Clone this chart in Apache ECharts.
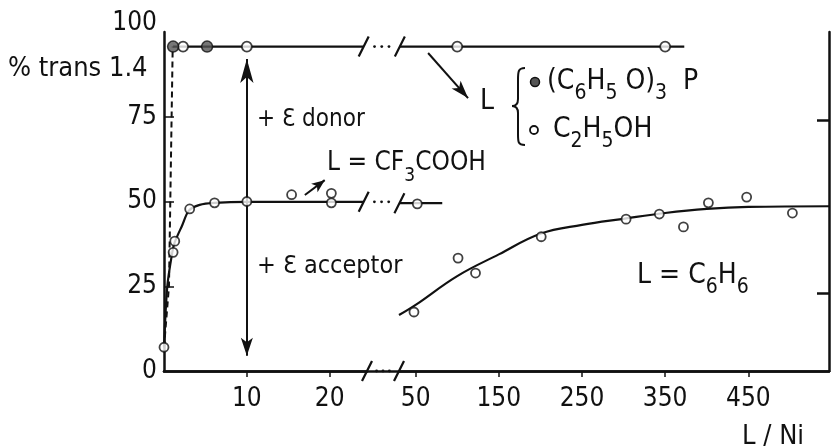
<!DOCTYPE html>
<html><head><meta charset="utf-8">
<script src="https://cdn.jsdelivr.net/npm/echarts@6/dist/echarts.min.js"></script>
<style>html,body{margin:0;padding:0;background:#fff}#c{width:832px;height:447px}</style>
</head><body><div id="c"></div>
<script>
// ---- data ----
const yTickLabels = [0, 25, 50, 75, 100];
const xTicksLeft = [10, 20];
const xTicksRight = [50, 150, 250, 350, 450];
const rightFrameTicks = [23, 74];

// L = (C6H5O)3P (filled) and L = C2H5OH (open), top line
const phosphitePts = [[1.1, 95.7], [5.2, 95.7]];
const ethanolPtsLeft = [[2.3, 95.7], [10, 95.7]];
const ethanolPtsRight = [[100, 95.7], [350, 95.7]];
const donorLineLeft = [[1.1, 95.7], [24.1, 95.7]];
const donorLineRight = [[31, 95.7], [373, 95.7]];
const donorDashed = [[0, 7], [0.6, 25], [0.95, 80], [1.05, 95.7]];

// L = CF3COOH
const cf3PtsLeft = [[0, 7], [1.1, 35], [1.3, 38.3], [3.1, 47.8], [6.1, 49.6], [10, 50], [15.4, 52], [20.2, 52.4], [20.2, 49.6]];
const cf3PtsRight = [[52, 49.3]];
const cf3CurveLeft = [[0, 7], [0.4, 25], [1.0, 35], [1.3, 38], [2.2, 43], [3.0, 47.3], [4.3, 49], [6.1, 49.6], [10, 49.9], [24.1, 49.9]];
const cf3CurveRight = [[30.5, 49.5], [82, 49.5]];

// L = C6H6
const benzeneL = [48, 101, 122, 201, 303, 343, 372, 402, 448, 503];
const benzeneY = [17.4, 33.3, 28.9, 39.6, 44.8, 46.3, 42.5, 49.6, 51.3, 46.6];
const benzeneCurve = [[30, 16.5], [50, 19.5], [100, 28], [150, 34.4], [200, 40.5], [250, 43.1], [300, 44.9], [350, 46.6], [400, 47.8], [450, 48.4], [548, 48.6]];

// arrows (data coordinates)
const bigArrow = [[10, 4.5], [10, 92]];
const cf3Arrow = [[17, 51.9], [19.4, 56.3]];
const donorArrow = [[65, 93.8], [113, 80.5]];

// ---- chart ----
const INK = '#111';
const FONT = "'DejaVu Sans Condensed', 'DejaVu Sans', sans-serif";
const NUMFONT = "'Liberation Sans Narrow', 'DejaVu Sans Condensed', 'DejaVu Sans', sans-serif";
const chart = echarts.init(document.getElementById('c'));

const openSym = { color: '#fff', borderColor: INK, borderWidth: 1.8 };
const lineSt = { color: INK, width: 2.2 };
const AX = { color: INK, width: 2.5 };

function axisX(grid, min, max, ticks) {
  return {
    type: 'value', gridIndex: grid, min: min, max: max,
    axisLine: { show: true, lineStyle: AX },
    axisTick: { show: true, customValues: ticks, length: 6, lineStyle: { color: INK, width: 1.5 } },
    axisLabel: { show: true, customValues: ticks, margin: 15, color: INK, fontSize: 26, fontFamily: NUMFONT },
    splitLine: { show: false }
  };
}

chart.setOption({
  animation: false,
  backgroundColor: '#fff',
  grid: [
    { left: 164, top: 32, width: 203, bottom: 76 },
    { left: 399, top: 32, width: 430, bottom: 76 },
    { left: 164, top: 32, width: 665, bottom: 76 }
  ],
  xAxis: [
    axisX(0, 0, 24.5, xTicksLeft),
    axisX(1, 30, 547, xTicksRight),
    { type: 'value', gridIndex: 2, min: 0, max: 1, position: 'top',
      axisLine: { show: true, lineStyle: AX },
      axisTick: { show: false }, axisLabel: { show: false }, splitLine: { show: false } }
  ],
  yAxis: [
    { type: 'value', gridIndex: 0, min: 0, max: 100, interval: 25,
      axisLine: { show: true, lineStyle: AX },
      axisTick: { show: true, inside: true, customValues: [25, 50, 75], length: 10, lineStyle: { color: INK, width: 1.5 } },
      axisLabel: { show: true, customValues: yTickLabels, margin: 7, color: INK, fontSize: 26, fontFamily: NUMFONT,
        formatter: v => v === 100 ? '{t|100}' : String(v),
        rich: { t: { fontSize: 26, fontFamily: NUMFONT, color: INK, padding: [0, 0, 18, 0] } } },
      splitLine: { show: false } },
    { type: 'value', gridIndex: 1, min: 0, max: 100, position: 'right',
      axisLine: { show: true, lineStyle: AX },
      axisTick: { show: true, inside: true, customValues: rightFrameTicks, length: 12, lineStyle: { color: INK, width: 2.5 } },
      axisLabel: { show: false },
      splitLine: { show: false } },
    { type: 'value', gridIndex: 2, min: 0, max: 100, show: false }
  ],
  series: [
    { type: 'line', xAxisIndex: 0, yAxisIndex: 0, data: cf3CurveLeft, smooth: 0.3, showSymbol: false, lineStyle: lineSt, z: 2 },
    { type: 'line', xAxisIndex: 1, yAxisIndex: 1, data: cf3CurveRight, showSymbol: false, lineStyle: lineSt, z: 2 },
    { type: 'line', xAxisIndex: 0, yAxisIndex: 0, data: donorLineLeft, showSymbol: false, lineStyle: lineSt, z: 2 },
    { type: 'line', xAxisIndex: 1, yAxisIndex: 1, data: donorLineRight, showSymbol: false, lineStyle: lineSt, z: 2 },
    { type: 'line', xAxisIndex: 0, yAxisIndex: 0, data: donorDashed, showSymbol: false, lineStyle: { color: INK, width: 2, type: [6, 4] }, z: 2 },
    { type: 'line', xAxisIndex: 1, yAxisIndex: 1, data: benzeneCurve, smooth: 0.4, showSymbol: false, lineStyle: lineSt, z: 2 },
    { type: 'scatter', xAxisIndex: 0, yAxisIndex: 0, data: cf3PtsLeft, symbolSize: 9, itemStyle: openSym, z: 5 },
    { type: 'scatter', xAxisIndex: 1, yAxisIndex: 1, data: cf3PtsRight, symbolSize: 9, itemStyle: openSym, z: 5 },
    { type: 'scatter', xAxisIndex: 0, yAxisIndex: 0, data: ethanolPtsLeft, symbolSize: 10, itemStyle: openSym, z: 5 },
    { type: 'scatter', xAxisIndex: 1, yAxisIndex: 1, data: ethanolPtsRight, symbolSize: 10, itemStyle: openSym, z: 5 },
    { type: 'scatter', xAxisIndex: 0, yAxisIndex: 0, data: phosphitePts, symbolSize: 11, itemStyle: { color: '#555', borderColor: INK, borderWidth: 1.5 }, z: 5 },
    { type: 'scatter', xAxisIndex: 1, yAxisIndex: 1, data: benzeneL.map((l, i) => [l, benzeneY[i]]), symbolSize: 9, itemStyle: openSym, z: 5 },
    { type: 'line', xAxisIndex: 0, yAxisIndex: 0, data: [], z: 1,
      markLine: { silent: true, animation: false, label: { show: false }, lineStyle: { color: INK, width: 2, type: 'solid' },
        data: [
          [{ coord: bigArrow[0], symbol: 'arrow', symbolSize: [9, 18] }, { coord: bigArrow[1], symbol: 'arrow', symbolSize: [10, 24] }],
          [{ coord: cf3Arrow[0], symbol: 'none' }, { coord: cf3Arrow[1], symbol: 'arrow', symbolSize: [8, 13] }]
        ] } },
    { type: 'line', xAxisIndex: 1, yAxisIndex: 1, data: [], z: 1,
      markLine: { silent: true, animation: false, label: { show: false }, lineStyle: { color: INK, width: 2, type: 'solid' },
        data: [
          [{ coord: donorArrow[0], symbol: 'none' }, { coord: donorArrow[1], symbol: 'arrow', symbolSize: [9, 18] }]
        ] } }
  ]
});

// ---- decorations: axis breaks, texts ----
const g = [];
function slash(p) {
  g.push({ type: 'line', shape: { x1: p[0] - 5, y1: p[1] + 10, x2: p[0] + 5, y2: p[1] - 10 }, style: { stroke: INK, lineWidth: 2.2 }, z: 10 });
}
function dots(a, b) {
  [0.3, 0.5, 0.7].forEach(f => g.push({ type: 'circle', shape: { cx: a[0] + (b[0] - a[0]) * f, cy: a[1], r: 1.4 }, style: { fill: INK }, z: 10 }));
}
function brk(yl, xl, yr, xr) {
  const a = chart.convertToPixel({ gridIndex: 0 }, [xl, yl]);
  const b = chart.convertToPixel({ gridIndex: 1 }, [xr, yr]);
  slash(a); slash(b); dots(a, b);
}
brk(0, 24.5, 0, 30);
brk(95.7, 24.1, 95.7, 31);
brk(49.9, 24.1, 49.5, 30.5);

function txt(x, y, s, size) {
  g.push({ type: 'text', x: x, y: y, z: 10, style: { text: s, fill: INK, font: size + 'px ' + FONT, textVerticalAlign: 'middle' } });
}
function chem(x, y, s, ch, sub) {
  g.push({ type: 'text', x: x, y: y, z: 10, style: {
    text: s, fill: INK, textVerticalAlign: 'middle',
    rich: {
      m: { fontSize: ch, fontFamily: FONT, fill: INK, verticalAlign: 'bottom', padding: [0, 0, 9, 0] },
      s: { fontSize: sub, fontFamily: FONT, fill: INK, verticalAlign: 'bottom' }
    } } });
}
txt(8, 69, '% trans 1.4', 27);
txt(257, 120, '+ Ɛ donor', 24);
txt(257, 266, '+ Ɛ acceptor', 25);
chem(327, 168, '{m|L = CF}{s|3}{m|COOH}', 26, 19);
txt(480, 102, 'L', 28);
chem(547, 86, '{m|(C}{s|6}{m|H}{s|5}{m| O)}{s|3}{m|  P}', 28, 21);
chem(553, 134, '{m|C}{s|2}{m|H}{s|5}{m|OH}', 28, 21);
chem(637, 280, '{m|L = C}{s|6}{m|H}{s|6}', 28, 21);
txt(742, 437, 'L / Ni', 27);
// legend markers and brace
g.push({ type: 'circle', shape: { cx: 535, cy: 82, r: 4.5 }, style: { fill: '#555', stroke: INK, lineWidth: 1.5 }, z: 10 });
g.push({ type: 'circle', shape: { cx: 534, cy: 130, r: 4 }, style: { fill: '#fff', stroke: INK, lineWidth: 1.8 }, z: 10 });
const braceSt = { fill: 'none', stroke: INK, lineWidth: 2 };
g.push({ type: 'bezierCurve', shape: { x1: 525, y1: 68, cpx1: 518, cpy1: 68, cpx2: 518, cpy2: 72, x2: 518, y2: 80 }, style: braceSt, z: 10 });
g.push({ type: 'line', shape: { x1: 518, y1: 80, x2: 518, y2: 99 }, style: braceSt, z: 10 });
g.push({ type: 'bezierCurve', shape: { x1: 518, y1: 99, cpx1: 518, cpy1: 104, cpx2: 516, cpy2: 106, x2: 512, y2: 106 }, style: braceSt, z: 10 });
g.push({ type: 'bezierCurve', shape: { x1: 512, y1: 106, cpx1: 516, cpy1: 106, cpx2: 518, cpy2: 108, x2: 518, y2: 113 }, style: braceSt, z: 10 });
g.push({ type: 'line', shape: { x1: 518, y1: 113, x2: 518, y2: 134 }, style: braceSt, z: 10 });
g.push({ type: 'bezierCurve', shape: { x1: 518, y1: 134, cpx1: 518, cpy1: 142, cpx2: 518, cpy2: 145, x2: 525, y2: 145 }, style: braceSt, z: 10 });

chart.setOption({ graphic: { elements: g } });
</script>
</body></html>
